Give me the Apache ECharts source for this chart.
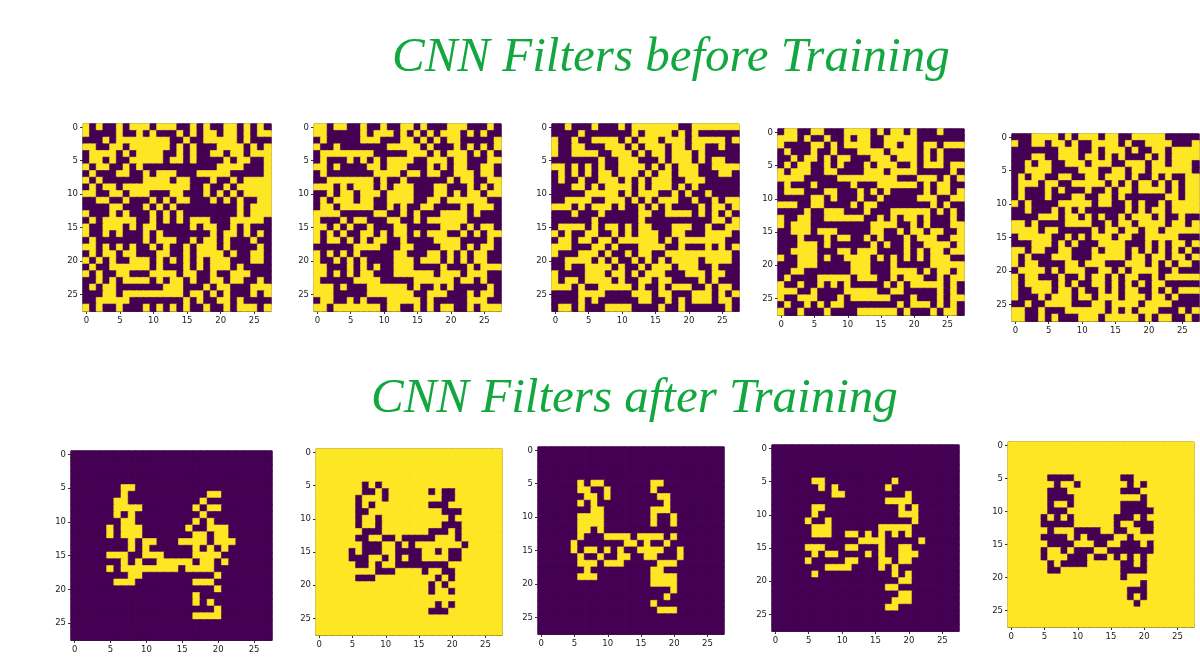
<!DOCTYPE html>
<html><head><meta charset="utf-8">
<style>html,body{margin:0;padding:0;background:#fff}#c{width:1200px;height:657px}</style>
<script src="https://cdn.jsdelivr.net/npm/echarts@6/dist/echarts.min.js"></script>
</head><body><div id="c"></div>
<script>
const titleBefore = "CNN Filters before Training";
const titleAfter = "CNN Filters after Training";
const tickLabels = ["0","1","2","3","4","5","6","7","8","9","10","11","12","13","14","15","16","17","18","19","20","21","22","23","24","25","26","27"];
const blank = "............................";
// '#' marks an inked cell, '.' an empty one
const before1 = [
"#.#..#.###.###..#.#..##.#.#.","#....#..#.#...#.#.##.##.#.##","...#.########..#..#####.#...","##..##.######.#.#...####.#.#",
".####.#.####..#.#..##.##.###",".##.#..#####.##.#....#.##..#","#.##..#.#...........####...#",".#...##..#.###...#####.....#",
"#.#......####.##...#..#.####",".#.##.##########..#..#.#####","##..##.###...##...#.#.#.####","..##..#...#.#.##...#.#.#..##",
"....##...#.#.#.........#.###","#...#.#...#.#.#........#.###",".#.#####..#.#.#.###...#####.","#..###.#.##.....#.##..#.#...",
"#..#.#...#.#.......#.##.#.#.",".#.......#.###..#.##.#...#..","##.#.#.#..#.#..#.###.#....#.",".#.##.##...##..#.####.#..##.",
"#.#.#..###.#.#.#.#.###...##.",".#..######.#...#.#.###.#....","#.#..##...####.##..#..###...","..#.#.####.#.##.#..##.##..#.",
".#.##.......###...#.##...###","...##.#########.##.#.#...#.#","..#####........#.#..##.#....","#.#..#...#.#.#.#..#..#.###.#"];
const before2 = [
"##.##..#..#..##.#...###...#.","##.....#.###.#.#.#.###.#.#..",".#.....###...##.#.#.##.....#","#..#.......#####.#...#.#.#.#",
".########.....###.#.###.#.#.",".#...#.#.#.####..###.##...##","##.#....##.###...#.#.##..##.",".#.......####.##.##..###.##.",
"..#######.#..#......#.##..##","###.#.###.#.###...##...#.#.#","..#.##.###.####...##.#.##.##",".#.###.##..####..##.######..",
".##.#####..#.#..##....#.###.","####.....##..#.#...####.#...","#...#.##...##..#.######.....","##.#.#..#...##.....###.#.##.",
"#.#.#..##.#.##.#.###..#.#.##","#.##.#.#.##..#....####....#.","......####...##....###.#.##.","#.#.#.#.....##...##.#.#.##..",
"#..#.#.#....###.###.#.#.##..","##...#.#.#..###....#...#.###","##.#.#.##...######.###.###..","#.....####.....######.##.#..",
"###.#...######.#..#.#.....#.","###.....#######..###...#.##.",".##..#.#...#####.#.....###..","##.#######.##..#.#.##..#.###"];
const before3 = [
"..#...#...#.#######..#######","....#.......#.####.#.#......","#..#..####.#.###.###.#####.#","#..##...###.#.###.##.##..#..",
"#..####..###.#.##.###.#.....",".......#..###...#.###.#.##...","##.#.#.#..####.#.#.###..####",".#.#.#.##.###.#.##.###...##.",
".#..#..###.#.#.###..###.....","...##.#.####.#.###.#.#......",".....#####.#.###..#.#..#....","..####..###.#.#.###..#..#.##",
"###.#.###.#..#.#.#....#.##.#","...#...#.....##..####.#.#.#.","......#......#..........##.#",".####.#.##.#.##...###..#..##",
"#.#..##..#.#.###..##...####.",".##.##.##.######.#.#######..","###...##.#...####..#...#.#.#","#...###.#..#.##..##########.",
"..####.#.#..#.#.#.####.####.","..#..####.#..#.###.###..#...","#....###.##.#.###...###.##..","#.##.####.#..##.##....#.#...",
"###.#..#####.#..#.###..#.##.","....####....###.##...###.#.#","....#.#......##..#.#.###.##.",".##.#...####....#..#......#."];
const before4 = [
".##..##...####.#.##.#...#...","###.#..#..#.##..#####.......","#....##.#.####..##.##.##.###",".#...#..#...####.####.#.#...",
"..#.##.#.##...###.###.#.#...",".#.##..#.#...#.###..#.###.##","#.###..##....###.####.....#.","####.....#########...###.#.#",
".#...#.....#...######.#.##..",".###...##...#.#.#.....#.##.#",".....##.#...#..#.....###..##","###..##....#.##........#.#..",
"....#..###...#...######.#.#.","#..##..######..#.#.##.#...#.","#.###.........####..#.#...##","..###.###.....##..#.##.##..#",
"...#...#.##..#.#...#.###..##","...###.#......#.#..#..####.#","..####...##.###....#.#.##.##","#..###.#..####.#.#.#.#.###..",
"...###.....###...#.....#####","..##.......###...####.#.##.#",".#....#####.###..#.###..#.##","#..#..#.#.#.....#.#.#####.#.",
"###..#....#####..##.....#.#.","#..###...#.######...#...#.##",".#..#.#.##........#.###.#.#.","#..#...#....######.#...#.##."];
const before5 = [
"...####.#.###.##..#####.....","#..##.##.#..####.#..####...#",".......###..#.###.#..##.####","...##..###.##.#.#...#.#.####",
"..#.##..###.###..###.##.###.","..####....###..##.##.######.",".#.##..##..##.###.#..#.#..##",".###.##..#####.#.#.##.#.#.##",
".#...#.#...#..#.##.####.#.##",".#...#...##..##.#......##.##","#.#....#####.##..#.#..#.####","..#...#.#.#......#.#.##.####",
"....###.##.#.#..#.###.#..#..","##.#....####..#.##.####.##.#","####.##.....#.##.##.##.#####",".#####..#.#.###.##..#####...",
"...###.#.#...####...#.#.##.#","##.##..##...#.###.#.#.#.#.#.","#.#...###...#####.##.##.##.#","#.##....##.###...###.#.#.##.",
".####.#.###..##.#.####..#...","#.##...#..#.##.#.##..#.#####","#.####.#.#..##.#.#.#.##.....","#..###.##.#..#.#.##..#.#.###",
"#...#.###.##.###.###.##.#...","..#..####...##.####.####....","##..#...######.#.#.###...#.#","##..#.#...###.#####.#.##..#."];
const after1 = [blank,blank,blank,blank,blank,
".......##...................",".......#...........##.......","......##..........#.........","......####.......#.##.......",
"......#.#.........#.........",".......##........#.#........",".....#.###......#..###......",".....#.###.......##.##......",
"........#.##...####.###.....","........#.#......#.#.#......",".....###..###....####.......",".......#.#..#####.##.#......",
".....#.########.####........","........##..........#.......","......###........###........","....................#.......",
".................#..........",".................#.#........","....................#.......",".................####.......",
blank,blank,blank];
const after2 = [blank,blank,blank,blank,blank,
".......#.#..................",".......##.#......#.##.......","......#...#........##.......","......#.#........###........",
"......##...........###......","......#..#..........#.......","......#..#.........###......",".......###.......###.#......",
"......##..##.#####...#......",".......###..#.#.......#.....",".....#.###..####..#.##......",".....###..#.#.##....##......",
"......##.#..########........",".........###....#..##.......","......###.........#.#.......",".................#.#........",
".................#..#.......",blank,"..................#.#.......",".................###........",
blank,blank,blank];
const after3 = [blank,blank,blank,blank,blank,
"......#.##.......##.........","......##..#......#..........",".......##.#.......##........","......#.#..........#........",
"........##.......###........","......####.......#..#.......","......####.......#..#.......","......##.#..................",
"......#...####.####.#.......",".....#.......##.#..#........",".....#.##.#.#..####..#......","......#..#..##..##...#......",
"......###.###.....###.......",".......#.........##.........","......###........####.......",".................####.......",
"....................#.......","...................#........",".................#..........","..................###.......",
blank,blank,blank];
const after4 = [blank,blank,blank,blank,blank,
"......##..........#.........",".......#.#.......#..........",".........##.........#.......",".................####.......",
"......##...........#.#......","......#............###......",".....#..#............#......","......###.......#####.......",
"......###..##.#.#.#.#.......",".............####.....#.....",".....###...##...#..##.......","......#.##....#.#..###......",
".....#.....##...##.##.......","........####....#.#.........","......#...........#.#.......","...................##.......",
".................##.........","...................##.......","..................###.......",".................##.........",
blank,blank,blank];
const after5 = [blank,blank,blank,blank,blank,
"......####.......##.........",".......#..#.......#.#.......","......###........###........","......####..........#.......",
"......#..#.......####.......","......###........#####......",".....#.#.#......###.#.......",".....#####......#..###......",
"......#...####..##..##......",".....####.#.####..#.........","......####...##..###.#......",".....#..#.###..#######......",
".....#...###.##.#.#.#.......","......#.####.....##.#.......","......##.........####.......",".................#..........",
"....................#.......","..................###.......","..................#.#.......","...................#........",
blank,blank,blank];
const panelRows = [before1,before2,before3,before4,before5,after1,after2,after3,after4,after5];
const inverted = [false,false,false,false,false,false,true,false,false,true];
const purple = "#440154", yellow = "#fde725", green = "#12a83f";
// plot rectangles: left, top, width, height
const boxes = [[83,124,188,187],[314,124,187,187],[552,124,187,187],[778,129,186,186],[1012,134,187,187],
               [71,451,201,189],[316,449,186,186],[538,447,186,187],[772,445,187,186],[1008,442,186,185]];

const titleStyle = {fontFamily:"Liberation Serif",fontStyle:"italic",fontWeight:"normal",fontSize:49,color:green};
const option = {
  animation:false, backgroundColor:"#fff",
  title:[
    {text:titleBefore,left:387,top:29,textStyle:titleStyle},
    {text:titleAfter,left:366,top:370,textStyle:titleStyle}
  ],
  visualMap:{show:false,type:"continuous",min:0,max:1,dimension:2,inRange:{color:[purple,yellow]}},
  grid:[],xAxis:[],yAxis:[],series:[]
};
panelRows.forEach((rows,p)=>{
  const b=boxes[p], data=[];
  rows.forEach((row,y)=>{ for(let x=0;x<28;x++){
    const ink=row[x]==="#", v=(ink!==inverted[p])?1:0, c=v?yellow:purple;
    data.push({value:[x,y,v],itemStyle:{color:c,borderColor:c,borderWidth:0.6}});
  } });
  option.grid.push({left:b[0],top:b[1],width:b[2],height:b[3],show:true,borderColor:"#333",borderWidth:1,backgroundColor:"transparent"});
  const axisCommon={type:"category",data:tickLabels,gridIndex:p,boundaryGap:true,
    axisLine:{show:true,lineStyle:{color:"#333",width:1}},
    axisTick:{show:true,alignWithLabel:true,interval:4,length:3,lineStyle:{color:"#333",width:1}},
    axisLabel:{interval:4,fontSize:8.5,margin:5,color:"#222",fontFamily:"DejaVu Sans"},
    splitLine:{show:false},splitArea:{show:false}};
  option.xAxis.push({...axisCommon,position:"bottom"});
  option.yAxis.push({...axisCommon,position:"left",inverse:true});
  option.series.push({type:"heatmap",xAxisIndex:p,yAxisIndex:p,data:data,progressive:0,emphasis:{disabled:true}});
});
echarts.init(document.getElementById("c"),null,{renderer:"canvas"}).setOption(option);
</script></body></html>
